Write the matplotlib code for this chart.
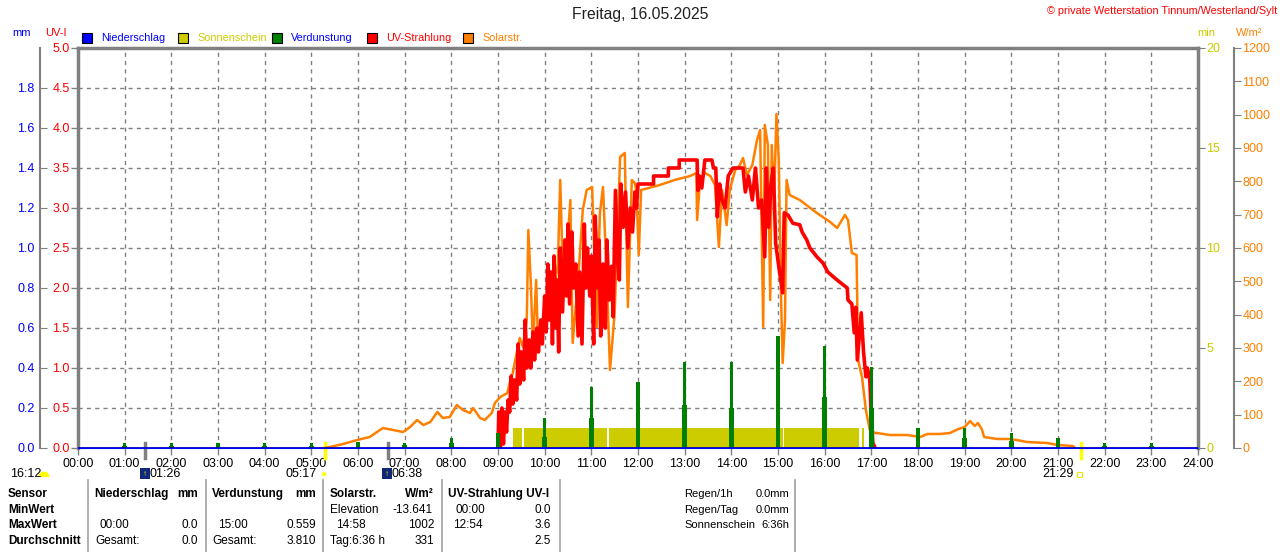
import matplotlib
matplotlib.use("Agg")
import matplotlib.pyplot as plt
import matplotlib.transforms as mtransforms
from matplotlib.lines import Line2D
from matplotlib.patches import Rectangle, Wedge

plt.rcParams['font.family'] = ['Liberation Sans', 'DejaVu Sans']

# ---- data ----
hour_labels = ["%02d:00" % h for h in range(25)]

# Solarstrahlung (W/m2)
solar_time = ["05:17", "05:24", "05:41", "05:59", "06:15", "06:32", "06:45", "06:58", "07:07", "07:16",
              "07:24", "07:33", "07:42", "07:49", "07:58", "08:07", "08:15", "08:24", "08:28", "08:37",
              "08:43", "08:52", "08:56", "09:03", "09:12", "09:15", "09:19", "09:24", "09:28", "09:32",
              "09:37", "09:39", "09:42", "09:45", "09:49", "09:51", "09:58", "10:04", "10:11", "10:17",
              "10:20", "10:24", "10:29", "10:33", "10:36", "10:43", "10:49", "10:54", "11:01", "11:07",
              "11:11", "11:15", "11:20", "11:24", "11:30", "11:37", "11:43", "11:47", "11:52", "11:56",
              "11:58", "12:01", "12:04", "12:28", "12:47", "13:07", "13:15", "13:16", "13:20", "13:26",
              "13:33", "13:39", "13:44", "13:48", "13:54", "13:58", "14:05", "14:11", "14:15", "14:20",
              "14:27", "14:33", "14:37", "14:41", "14:43", "14:47", "14:50", "14:52", "14:55", "14:58",
              "15:01", "15:04", "15:06", "15:09", "15:11", "15:15", "15:28", "15:50", "16:07", "16:16",
              "16:26", "16:30", "16:35", "16:41", "16:43", "16:48", "16:53", "16:58", "17:05", "17:07",
              "17:24", "17:46", "18:03", "18:12", "18:28", "18:41", "18:52", "19:00", "19:07", "19:13",
              "19:17", "19:22", "19:25", "19:42", "19:56", "20:07", "20:20", "20:46", "21:00", "21:19",
              "21:22"]
solar_wm2 = [0, 3, 12, 24, 33, 60, 54, 48, 63, 84,
             69, 78, 108, 90, 93, 129, 114, 105, 120, 90,
             84, 105, 135, 153, 165, 195, 225, 285, 330, 303,
             384, 654, 504, 303, 504, 354, 384, 423, 453, 555,
             804, 474, 603, 744, 315, 504, 714, 774, 783, 363,
             705, 783, 504, 234, 405, 873, 885, 423, 804, 795,
             770, 579, 774, 789, 804, 816, 825, 684, 810, 825,
             816, 789, 603, 774, 669, 774, 834, 849, 870, 819,
             849, 924, 954, 363, 969, 909, 444, 909, 744, 1002,
             864, 444, 255, 384, 804, 759, 744, 705, 678, 660,
             699, 684, 585, 579, 264, 213, 114, 54, 45, 45,
             39, 39, 33, 42, 42, 45, 57, 63, 81, 66,
             75, 57, 33, 27, 27, 24, 18, 15, 9, 6,
             0]

# UV-Strahlung (UV-I)
uv_time = ["09:00", "09:01", "09:03", "09:05", "09:07", "09:09", "09:11", "09:13", "09:15", "09:17",
           "09:19", "09:21", "09:24", "09:26", "09:28", "09:30", "09:33", "09:35", "09:37", "09:40",
           "09:42", "09:45", "09:47", "09:50", "09:52", "09:55", "09:57", "10:00", "10:02", "10:04",
           "10:06", "10:08", "10:10", "10:12", "10:14", "10:16", "10:18", "10:20", "10:23", "10:26",
           "10:28", "10:30", "10:32", "10:35", "10:37", "10:40", "10:43", "10:45", "10:48", "10:51",
           "10:53", "10:55", "10:58", "11:00", "11:03", "11:05", "11:08", "11:10", "11:12", "11:15",
           "11:18", "11:20", "11:23", "11:26", "11:28", "11:31", "11:34", "11:36", "11:38", "11:41",
           "11:44", "11:47", "11:50", "11:53", "11:56", "11:58", "12:00", "12:20", "12:20", "12:39",
           "12:39", "12:53", "12:53", "13:16", "13:17", "13:19", "13:22", "13:26", "13:35", "13:37",
           "13:40", "13:42", "13:45", "13:48", "13:52", "13:56", "14:02", "14:15", "14:18", "14:22",
           "14:27", "14:31", "14:35", "14:39", "14:43", "14:45", "14:48", "14:51", "14:54", "14:57",
           "15:01", "15:06", "15:08", "15:13", "15:19", "15:28", "15:31", "15:37", "15:41", "15:50",
           "15:58", "16:04", "16:16", "16:29", "16:30", "16:35", "16:38", "16:40", "16:42", "16:47",
           "16:50", "16:53", "16:55", "16:58", "17:00", "17:02", "17:05"]
uv_index = [0.0, 0.45, 0.0, 0.5, 0.05, 0.45, 0.2, 0.6, 0.45, 0.9,
            0.55, 0.85, 0.6, 1.3, 0.8, 1.2, 0.85, 1.6, 1.0, 1.35,
            1.0, 1.45, 1.1, 1.5, 1.2, 1.6, 1.3, 1.9, 1.45, 2.3,
            1.6, 2.2, 1.3, 2.4, 1.5, 2.1, 1.2, 2.5, 1.7, 2.6,
            1.9, 2.8, 1.8, 2.7, 2.0, 2.3, 1.4, 2.2, 1.3, 2.8,
            2.0, 2.5, 1.9, 2.4, 1.3, 2.9, 2.0, 2.6, 1.4, 2.3,
            1.5, 2.6, 1.85, 2.27, 1.64, 3.22, 2.3, 2.1, 3.3, 2.76,
            3.2, 2.5, 3.0, 2.7, 3.2, 3.0, 3.3, 3.3, 3.4, 3.4,
            3.5, 3.5, 3.6, 3.6, 3.22, 3.4, 3.25, 3.6, 3.6, 3.5,
            3.5, 2.89, 3.3, 3.1, 3.0, 3.4, 3.5, 3.5, 3.2, 3.4,
            3.1, 3.5, 3.0, 3.1, 2.39, 3.5, 2.76, 3.3, 3.5, 2.56,
            2.27, 1.94, 2.94, 2.91, 2.81, 2.79, 2.7, 2.6, 2.5, 2.39,
            2.31, 2.2, 2.1, 2.0, 1.85, 1.8, 1.44, 1.76, 1.1, 1.69,
            1.2, 0.89, 1.0, 0.85, 0.39, 0.06, 0.0]

# Verdunstung (mm) per hour: full bar and lower wide part
evap_hour = list(range(1, 24))
evap_mm = [0.025, 0.025, 0.025, 0.025, 0.025, 0.03, 0.025, 0.05, 0.075, 0.15, 0.305, 0.33,
           0.43, 0.43, 0.56, 0.51, 0.405, 0.1, 0.1, 0.075, 0.05, 0.025, 0.025]
evap_low = [0.01, 0.01, 0.01, 0.01, 0.01, 0.015, 0.015, 0.025, 0.03, 0.055, 0.15, 0.165,
            0.215, 0.2, 0.28, 0.255, 0.2, 0.05, 0.05, 0.035, 0.025, 0.01, 0.01]

# Sonnenschein (min) intervals
sun_start = ["09:19", "09:33", "11:23", "15:08", "16:48"]
sun_end = ["09:31", "11:20", "15:06", "16:44", "16:51"]
sun_min = [1.0, 1.0, 1.0, 1.0, 1.0]

sunrise, sunset = "05:17", "21:29"
moon_a, moon_b = "01:26", "06:38"


def hrs(t):
    h, m = t.split(":")
    return int(h) + int(m) / 60.0


GRAY = "#808080"
BLUE = "#0000ff"
RED = "#ff0000"
ORANGE = "#ff8000"
YEL = "#cccc00"
GREEN = "#008000"

W, H = 1280, 552
fig = plt.figure(figsize=(12.8, 5.52), dpi=100)
L, R, T, B = 78, 1198, 48, 448
ax = fig.add_axes([L / W, 1 - B / H, (R - L) / W, (B - T) / H])


def fx(px):
    return px / W


def fy(py):
    return 1 - py / H


# base axis: UV-I scale and grid
ax.set_xlim(0, 24)
ax.set_ylim(0, 5)
ax.set_xticks(range(25))
ax.set_xticklabels(hour_labels, fontsize=9)
ax.set_yticks([i * 0.5 for i in range(11)])
ax.set_yticklabels(["%.1f" % (i * 0.5) for i in range(11)], fontsize=9)
ax.tick_params(axis="both", colors=GRAY, length=5, width=1)
ax.tick_params(axis="y", pad=1)
ax.tick_params(axis="x", pad=2)
for lab in ax.get_yticklabels():
    lab.set_color(RED)
for lab in ax.get_xticklabels():
    lab.set_color("black")
ax.grid(True, color=GRAY, linestyle=(0, (3, 3)), linewidth=1)
for s in ["left", "top", "right"]:
    ax.spines[s].set_color(GRAY)
    ax.spines[s].set_linewidth(2.5)
ax.spines["bottom"].set_color(BLUE)

# sunshine (min)
ax_sun = ax.twinx()
ax_sun.set_ylim(0, 20)
ax_sun.set_yticks([0, 5, 10, 15, 20])
ax_sun.tick_params(axis="y", colors=GRAY, length=5, pad=1, labelsize=9, labelcolor=YEL)
for s in ax_sun.spines.values():
    s.set_visible(False)
ss = [hrs(t) for t in sun_start]
se = [hrs(t) for t in sun_end]
ax_sun.bar(ss, sun_min, width=[e - s for s, e in zip(ss, se)], align="edge", color=YEL, linewidth=0)

# solar radiation (W/m2)
ax_sol = ax.twinx()
ax_sol.set_ylim(0, 1200)
ax_sol.set_yticks(range(0, 1201, 100))
ax_sol.tick_params(axis="y", colors=GRAY, length=5, pad=1, labelsize=9, labelcolor=ORANGE)
for s in ax_sol.spines.values():
    s.set_visible(False)
ax_sol.spines["right"].set_visible(True)
ax_sol.spines["right"].set_position(("axes", (1234 - L) / (R - L)))
ax_sol.spines["right"].set_color(GRAY)
ax_sol.spines["right"].set_linewidth(1.5)
ax_sol.plot([hrs(t) for t in solar_time], solar_wm2, color=ORANGE, linewidth=1.8)

# UV line
ax_uv = ax.twinx()
ax_uv.set_ylim(0, 5)
ax_uv.set_yticks([])
for s in ax_uv.spines.values():
    s.set_visible(False)
ax_uv.plot([hrs(t) for t in uv_time], uv_index, color=RED, linewidth=2.6)

# evaporation / rain (mm)
ax_mm = ax.twinx()
ax_mm.set_ylim(0, 2)
ax_mm.yaxis.set_ticks_position("left")
ax_mm.yaxis.set_label_position("left")
ax_mm.set_yticks([i * 0.2 for i in range(10)])
ax_mm.set_yticklabels(["%.1f" % (i * 0.2) for i in range(10)])
ax_mm.tick_params(axis="y", colors=GRAY, length=5, direction="in", pad=4, labelsize=9, labelcolor=BLUE)
for s in ax_mm.spines.values():
    s.set_visible(False)
ax_mm.spines["left"].set_visible(True)
ax_mm.spines["left"].set_position(("axes", (40 - L) / (R - L)))
ax_mm.spines["left"].set_color(GRAY)
ax_mm.spines["left"].set_linewidth(1.5)
ax_mm.bar(evap_hour, evap_low, width=0.1, color=GREEN, linewidth=0)
ax_mm.bar(evap_hour, evap_mm, width=0.065, color=GREEN, linewidth=0)
ax_mm.axhline(0, color="#0000c0", linewidth=2)

# sunrise / moon markers under the axis
trans = mtransforms.blended_transform_factory(ax.transData, ax.transAxes)
for t, c in [(sunrise, "#ffff00"), (sunset, "#ffff00"), (moon_a, GRAY), (moon_b, GRAY)]:
    ax.plot([hrs(t), hrs(t)], [0.012, -0.025], color=c, linewidth=2.5, transform=trans, clip_on=False)

# header texts
fig.text(0.5, fy(15), "Freitag, 16.05.2025", ha="center", va="center", fontsize=11.3, color="#202020")
fig.text(fx(1277), fy(11), "\u00a9 private Wetterstation Tinnum/Westerland/Sylt", ha="right", va="center",
         fontsize=7.8, color=RED)
fig.text(fx(22), fy(33), "mm", ha="center", va="center", fontsize=8, color=BLUE)
fig.text(fx(56), fy(33), "UV-I", ha="center", va="center", fontsize=8, color=RED)
fig.text(fx(1206), fy(33), "min", ha="center", va="center", fontsize=8, color=YEL)
fig.text(fx(1249), fy(33), "W/m\u00b2", ha="center", va="center", fontsize=8, color=ORANGE)

legend = [("Niederschlag", BLUE, BLUE, 87), ("Sonnenschein", YEL, YEL, 183), ("Verdunstung", GREEN, BLUE, 277),
          ("UV-Strahlung", RED, RED, 372), ("Solarstr.", ORANGE, ORANGE, 468)]
for name, fc, tc, px in legend:
    fig.add_artist(Rectangle((fx(px - 5), fy(43)), 10 / W, 10 / H, facecolor=fc, edgecolor="black",
                             linewidth=0.8, transform=fig.transFigure))
    fig.text(fx(px + 14), fy(38), name, ha="left", va="center", fontsize=7.8, color=tc)

# sun / moon times
pix = mtransforms.IdentityTransform()
fig.text(fx(10), fy(474), "16:12", ha="left", va="center", fontsize=9)
fig.add_artist(Wedge((44, H - 477), 5.5, 0, 180, facecolor="#ffff00", edgecolor="none", transform=pix))
for t, px_icon, px_txt in [(moon_a, 140, 150), (moon_b, 382, 392)]:
    fig.add_artist(Rectangle((fx(px_icon), fy(479)), 10 / W, 11 / H, facecolor="#102878", edgecolor="none",
                             transform=fig.transFigure))
    fig.text(fx(px_icon + 5), fy(474), "\u2191", ha="center", va="center", fontsize=6, color="#ffff00")
    fig.text(fx(px_txt), fy(474), t, ha="left", va="center", fontsize=9)
fig.text(fx(317), fy(474), sunrise, ha="right", va="center", fontsize=9)
fig.text(fx(323), fy(474), "\u25cf", ha="center", va="center", fontsize=7, color="#ffff00")
fig.text(fx(1074), fy(474), sunset, ha="right", va="center", fontsize=9)
fig.add_artist(Rectangle((fx(1077), fy(477)), 5 / W, 5 / H, facecolor="none", edgecolor="#e8e800",
                         linewidth=0.8, transform=fig.transFigure))

# statistics table
for px in [88, 206, 323, 442, 560, 795]:
    fig.add_artist(Line2D([fx(px), fx(px)], [fy(480), fy(552)], color="#a0a0a0", linewidth=1.2))

rows = [494, 510, 525, 541]
for lab, py in zip(["Sensor", "MinWert", "MaxWert", "Durchschnitt"], rows):
    fig.text(fx(8), fy(py), lab, ha="left", va="center", fontsize=8.5, fontweight="bold")

cells = [
    (94, 0, "Niederschlag", "l", True), (198, 0, "mm", "r", True),
    (212, 0, "Verdunstung", "l", True), (316, 0, "mm", "r", True),
    (330, 0, "Solarstr.", "l", True), (434, 0, "W/m\u00b2", "r", True),
    (448, 0, "UV-Strahlung UV-I", "l", True),
    (330, 1, "Elevation", "l", False), (433, 1, "-13.641", "r", False),
    (455, 1, "00:00", "l", False), (551, 1, "0.0", "r", False),
    (100, 2, "00:00", "l", False), (198, 2, "0.0", "r", False),
    (218, 2, "15:00", "l", False), (316, 2, "0.559", "r", False),
    (336, 2, "14:58", "l", False), (434, 2, "1002", "r", False),
    (453, 2, "12:54", "l", False), (551, 2, "3.6", "r", False),
    (95, 3, "Gesamt:", "l", False), (198, 3, "0.0", "r", False),
    (212, 3, "Gesamt:", "l", False), (316, 3, "3.810", "r", False),
    (330, 3, "Tag:6:36 h", "l", False), (434, 3, "331", "r", False),
    (551, 3, "2.5", "r", False),
]
for px, r, txt, al, bold in cells:
    fig.text(fx(px), fy(rows[r]), txt, ha="left" if al == "l" else "right", va="center", fontsize=8.5,
             fontweight="bold" if bold else "normal")

side = [("Regen/1h", "0.0mm"), ("Regen/Tag", "0.0mm"), ("Sonnenschein", "6:36h")]
for r, (lab, val) in enumerate(side):
    fig.text(fx(684), fy(rows[r]), lab, ha="left", va="center", fontsize=8)
    fig.text(fx(789), fy(rows[r]), val, ha="right", va="center", fontsize=8)

fig.savefig("out.png", dpi=100)
